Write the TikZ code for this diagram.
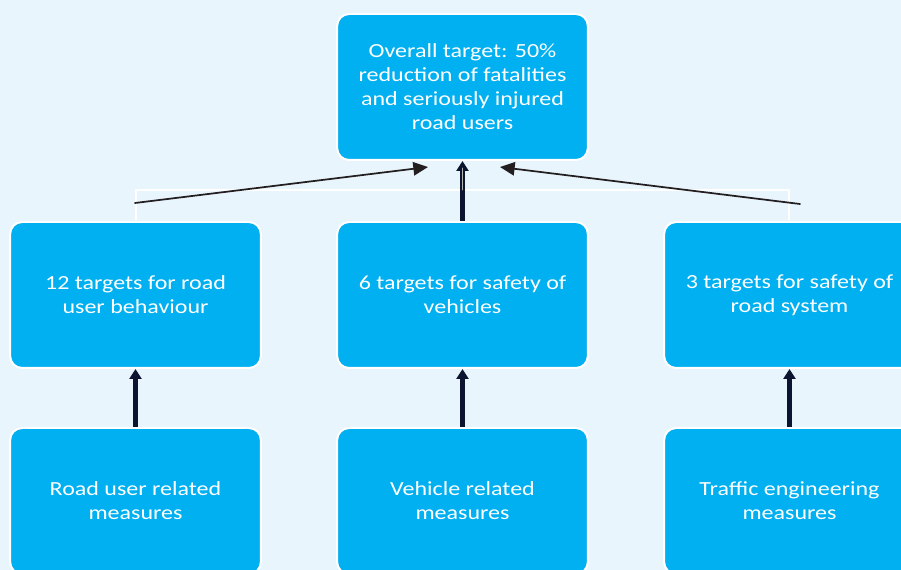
\documentclass[tikz,border=0pt]{standalone}
\usepackage{fontspec}
\setmainfont{Carlito}[FakeStretch=1.2]
\usepackage{tikz}
\usetikzlibrary{arrows.meta}
\usetikzlibrary{positioning}
\usetikzlibrary{calc}
\definecolor{BoxBlue}{RGB}{0,176,240}
\definecolor{PageBlue}{RGB}{232,245,253}
\definecolor{ArrowGray}{RGB}{35,31,32}
\definecolor{ArrowNavy}{RGB}{12,20,48}

\begin{document}
\begin{tikzpicture}[line cap=round,line join=round,x=0.75pt,y=-0.75pt,
  box/.style={draw=white,line width=1.5pt,fill=BoxBlue,rounded corners=9pt,minimum width=188pt,minimum height=109.5pt,align=center,text=white,font=\fontsize{15}{18}\selectfont,inner sep=0pt},
  thin arrow/.style={-{Triangle[length=11pt,width=10pt]},line width=1.3pt,color=ArrowGray},
  thick arrow/.style={-{Triangle[length=7.5pt,width=9pt]},line width=3.2pt,color=ArrowNavy,line cap=butt},
  frame line/.style={draw=white,line width=1pt}]
\useasboundingbox (0,0) rectangle (901,570);
\fill[PageBlue] (0,0) rectangle (901,570);
\clip (0,0) rectangle (901,570);
\draw[frame line] (136,220) -- (136,190) -- (789,190) -- (789,220);
\node[box] (top) at (462.5,87) {Overall target: 50\%\\reduction of fatalities\\and seriously injured\\road users};
\node[box] (mid1) at (135.5,295) {12 targets for road\\user behaviour};
\node[box] (mid2) at (462.5,295) {6 targets for safety of\\vehicles};
\node[box] (mid3) at (789.5,295) {3 targets for safety of\\road system};
\node[box] (low1) at (135.5,501) {Road user related\\measures};
\node[box] (low2) at (462.5,501) {Vehicle related\\measures};
\node[box] (low3) at (789.5,501) {Traffic engineering\\measures};
\coordinate (lfoot) at (135,203);
\coordinate (lhead) at (428,167);
\coordinate (rfoot) at (800,204);
\coordinate (rhead) at (500,167);
\draw[thin arrow] (lfoot) -- (lhead);
\draw[thin arrow] (rfoot) -- (rhead);
\draw[thick arrow] (mid2.north) -- (top.south);
\draw[gray!60,line width=0.6pt] (462.5,190) -- (462.5,168);
\foreach \n in {1,2,3}
\draw[thick arrow] (low\n.north) -- (mid\n.south);
\end{tikzpicture}
\end{document}
